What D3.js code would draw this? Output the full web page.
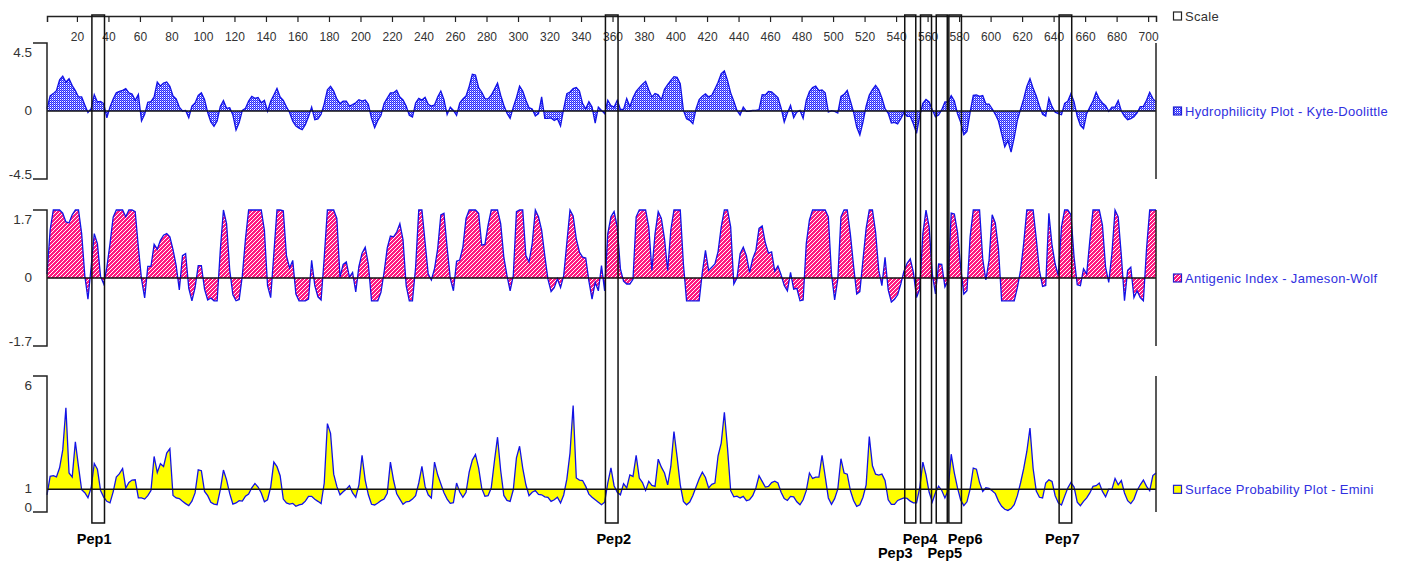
<!DOCTYPE html>
<html>
<head>
<meta charset="utf-8">
<title>Antigenicity plots</title>
<style>
  body {margin: 0; background: #fff; font-family: "Liberation Sans", Arial, sans-serif;}
  .frame {stroke: #222; stroke-width: 1.5; fill: none;}
  .ylab {font-size: 13.5px; fill: #333;}
  .legend text {font-size: 13px; letter-spacing: 0.3px;}
  .pep {fill: none; stroke: #111; stroke-width: 1.5;}
  .pep-label {font-size: 14.5px; font-weight: bold; fill: #000;}
  .trace {fill: none; stroke: #1212e6; stroke-width: 1.3; stroke-linejoin: miter;}
  .base {stroke: #111; stroke-width: 1.5;}
</style>
</head>
<body>
<svg width="1403" height="563"></svg>
<script src="https://d3js.org/d3.v7.min.js"></script>
<script>
// series are sampled at residues 1, 3, 5, ... 705
var residueStart = 1, residueStep = 2, seqLength = 705;

var scaleTicks = [20,40,60,80,100,120,140,160,180,200,220,240,260,280,300,320,340,
  360,380,400,420,440,460,480,500,520,540,560,580,600,620,640,660,680,700];

var hydrophilicity = [
  0.15,1.0,1.15,1.35,2.07,2.3,1.9,2.14,1.68,1.35,
  0.93,0.93,0.4,-0.1,0.15,1.08,0.6,0.64,0.49,-0.45,
  0.26,0.8,1.2,1.3,1.37,1.48,1.2,1.13,0.71,1.1,
  -0.66,-0.22,0.58,0.62,0.93,1.92,1.65,1.85,1.92,1.63,
  1.0,0.8,0.26,0,0.04,-0.45,0.33,0.53,1.04,1.2,
  0.77,-0.1,-0.73,-1.02,-0.66,0.3,0.69,0.18,0.22,-0.27,
  -1.26,-0.77,0.04,0.18,0.66,0.97,0.84,0.9,0.55,0.71,
  -0.02,0.64,1.06,1.5,0.93,0.71,0.28,-0.1,-0.68,-1.0,
  -1.13,-1.24,-0.9,-0.38,0.26,-0.58,-0.53,-0.22,0.49,1.41,
  1.63,1.32,0.8,0.49,0.66,0.66,0.33,0.42,0.55,0.75,
  0.66,0.73,0.44,-0.49,-1.1,-0.62,-0.3,0.5,0.85,1.2,
  1.2,1.37,0.93,0.73,0.33,-0.29,-0.4,0.53,0.84,0.73,
  0.9,0.44,0.33,0.4,0.93,1.32,0.75,-0.24,0.26,0.04,
  -0.29,0.53,0.8,1.0,1.63,2.43,2.38,1.55,1.24,0.82,
  0.8,1.04,1.43,1.85,1.04,0.38,-0.15,-0.49,0.26,0.88,
  1.65,1.32,0.71,0.22,0.13,-0.33,-0.18,0.93,-0.49,-0.49,
  -0.46,-0.62,-0.51,-1.0,0.15,1.15,1.26,1.48,1.55,1.32,
  0.49,0.15,0.62,0.26,-0.8,0.26,0.04,-0.18,0.71,0.35,
  0.26,0.71,0.11,0.11,0.82,0.29,0.88,1.3,1.55,1.77,
  1.96,1.41,0.93,1.15,1.08,0.75,1.43,1.74,2.03,2.27,
  2.23,1.81,0.04,-0.51,-0.62,-0.84,0.13,0.75,0.97,1.13,
  0.93,1.04,1.46,1.9,2.47,2.65,2.03,1.2,0.64,0.04,
  -0.27,0.26,-0.02,0,0.04,0.04,0.09,1.08,1.06,1.3,
  1.26,1.08,0.88,0.2,-0.73,-0.13,0.38,-0.45,-0.07,0.04,
  -0.49,0.71,1.28,1.55,1.65,1.35,1.39,1.2,-0.07,0.02,
  -0.02,-0.13,0.97,1.1,1.37,0.66,-0.07,-1.06,-1.59,-0.73,
  0.33,1.06,1.41,1.7,1.41,0.86,0.15,-0.15,-0.8,-0.75,
  -0.86,-0.51,-0.09,-0.35,-0.35,-0.86,-1.48,-0.33,0.51,0.77,
  0.6,0.09,-0.38,-0.27,0.09,0.6,0.6,1.02,0.66,-0.18,
  -0.75,-1.57,-1.35,-0.09,1.04,1.06,0.97,1.02,0.46,0.46,
  0.15,-0.22,-0.66,-1.5,-2.38,-1.96,-2.72,-1.77,-0.62,0.11,
  0.8,1.63,2.14,1.5,1.0,0.33,-0.22,-0.35,0.84,0.29,
  -0.09,-0.18,-0.24,0.51,0.64,1.15,0.6,-0.35,-0.95,-1.17,
  -0.18,0.26,0.66,1.24,0.8,0.53,0.35,-0.02,0.26,0.26,
  0.69,0,-0.35,-0.58,-0.51,-0.38,-0.13,0.29,0.31,0.71,
  1.24,0.82,0.6
];

var antigenic = [
  0.1,1.2,1.7,1.7,1.7,1.62,1.4,1.38,1.58,1.7,
  1.7,1.11,0.06,-0.53,0.27,1.11,0.86,0.04,-0.15,0.27,
  0.86,1.52,1.7,1.7,1.7,1.53,1.7,1.7,1.66,0.77,
  -0.03,-0.5,0.29,0.29,0.84,0.72,0.94,1.07,1.11,1.03,
  0.71,0.31,-0.3,0.56,0.61,-0.26,-0.57,-0.24,0.31,0.31,
  -0.28,-0.55,-0.5,-0.57,-0.57,0.69,1.7,1.36,0.2,-0.42,
  -0.57,-0.54,0.06,0.98,1.7,1.7,1.7,1.7,1.7,1.2,
  -0.19,-0.49,0.61,1.7,1.7,1.68,0.56,0.25,0.44,-0.4,
  -0.57,-0.57,-0.57,-0.53,0.44,-0.19,-0.47,-0.55,0.52,1.7,
  1.7,1.7,1.49,0.02,0.34,0.4,0.02,0.14,-0.35,0.29,
  0.62,0.77,0.35,-0.57,-0.57,-0.57,-0.36,0.15,0.75,1.05,
  1.03,1.15,1.36,0.96,-0.19,-0.57,-0.57,0.27,1.7,1.7,
  0.9,0.1,-0.05,0.23,0.73,1.58,1.62,0.77,-0.01,-0.32,
  0.42,0.45,0.77,1.49,1.7,1.7,1.7,1.62,0.82,0.84,
  1.32,1.7,1.7,1.7,1.36,0.52,0.06,-0.32,0.06,1.66,
  1.7,1.7,0.56,0.4,0.86,1.7,1.53,1.2,0.56,-0.03,
  -0.34,-0.24,-0.02,-0.24,0.06,0.88,1.7,1.55,0.98,0.65,
  0.52,0.5,-0.08,-0.53,-0.11,-0.32,0.31,-0.32,1.11,1.53,
  1.66,1.28,0.23,-0.08,-0.15,-0.15,-0.03,1.53,1.7,1.7,
  1.7,1.28,0.19,1.11,1.66,1.49,0.98,0.19,1.2,1.7,
  1.7,1.7,0.35,-0.57,-0.57,-0.57,-0.57,-0.57,0.14,0.69,
  0.19,0.27,0.35,0.66,1.28,1.7,1.7,1.28,-0.15,0,
  0.61,0.77,0.56,0.14,0.48,0.69,1.24,1.3,0.88,0.62,
  0.65,0.17,0.3,0.08,-0.19,-0.32,0.14,-0.28,-0.26,-0.57,
  -0.55,0.86,1.45,1.7,1.7,1.7,1.7,1.7,1.53,0.1,
  -0.55,-0.03,1.53,1.7,1.7,1.09,0.31,-0.4,-0.34,0.46,
  1.24,1.7,1.7,1.15,0.19,-0.19,0.52,-0.3,-0.6,-0.53,
  -0.42,-0.15,0.17,0.37,0.48,0.14,-0.49,-0.28,1.11,1.7,
  1.28,0.1,-0.4,0.35,0.34,-0.22,-0.07,1.62,1.6,1.15,
  0.27,-0.4,-0.32,1.03,1.7,1.7,1.7,0.48,-0.05,0.44,
  1.58,1.38,0.73,-0.57,-0.57,-0.57,-0.57,-0.57,-0.24,0.19,
  0.86,1.7,1.7,1.7,0.98,0.19,-0.21,-0.19,1.62,0.82,
  0.35,0.06,1.28,1.7,1.7,1.58,0.52,-0.17,-0.19,0.23,
  0.1,0.94,1.7,1.7,1.7,1.32,0.27,-0.11,0.61,1.7,
  1.53,0.56,-0.57,0.19,0.27,-0.49,-0.32,-0.49,-0.57,0.73,
  1.7,1.7,1.7
];

var surface = [
  0.76,1.57,1.6,1.55,1.95,2.74,4.6,1.72,1.54,3.1,
  2.0,0.98,0.85,0.63,1.06,2.14,1.89,0.95,0.66,0.47,
  0.4,0.89,1.54,1.69,1.92,1.06,1.3,1.41,1.42,0.62,
  0.62,0.57,0.72,0.95,2.45,1.74,2.13,2.01,2.6,2.8,
  0.73,0.62,0.59,0.47,0.37,0.28,0.48,0.84,1.86,1.82,
  0.91,0.72,0.43,0.35,0.32,0.98,1.85,1.42,0.81,0.35,
  0.4,0.5,0.48,0.7,0.79,1.07,1.26,1.1,0.84,0.45,
  0.54,1.1,2.2,2.0,1.6,0.57,0.4,0.35,0.38,0.25,
  0.31,0.35,0.48,0.69,0.69,0.56,0.47,0.37,1.28,3.9,
  3.47,1.67,1.13,0.76,0.89,1.01,1.16,0.84,0.65,1.2,
  2.5,1.41,0.76,0.34,0.31,0.4,0.5,0.57,0.83,2.2,
  1.4,0.8,0.57,0.34,0.45,0.47,0.57,0.72,1.28,2.01,
  1.13,0.76,0.62,2.2,1.64,1.25,0.85,0.57,0.38,0.41,
  1.28,0.88,0.65,0.87,1.76,2.29,2.54,1.95,1.04,0.69,
  0.72,1.06,2.23,3.3,1.83,0.73,0.51,0.47,0.98,2.39,
  2.9,1.94,1.2,0.72,0.87,0.95,0.78,0.76,0.67,0.65,
  0.47,0.54,0.65,0.4,0.75,1.45,2.6,4.7,1.5,1.41,
  1.39,1.13,0.79,0.65,0.54,0.43,0.32,0.43,1.28,1.95,
  1.16,0.87,0.76,1.25,1.06,1.64,1.57,2.5,1.5,1.3,
  0.95,1.35,1.17,1.13,2.33,1.98,1.72,1.2,2.01,3.55,
  2.42,1.2,0.47,0.32,0.44,0.73,1.1,1.47,1.76,1.52,
  1.06,1.22,1.28,2.48,3.04,4.4,2.82,0.94,0.67,0.7,
  0.62,0.69,0.5,0.54,0.72,1.06,1.6,1.35,1.1,1.13,
  1.3,1.36,1.28,0.87,0.59,0.51,0.69,0.67,0.45,0.32,
  0.54,0.94,1.72,1.48,1.54,1.54,2.5,1.57,0.62,0.34,
  0.59,1.01,2.35,1.72,1.67,0.94,0.51,0.25,0.32,0.65,
  1.2,3.33,2.04,1.67,1.63,1.67,1.39,0.54,0.34,0.34,
  0.51,0.57,0.62,0.6,0.48,0.4,0.4,1.06,2.2,1.64,
  0.87,0.44,0.85,1.14,0.95,0.62,0.94,2.55,1.72,1.06,
  0.53,0.28,0.45,1.01,1.94,1.89,1.3,0.91,1.07,1.04,
  0.94,0.81,0.48,0.25,0.12,0.07,0.15,0.32,0.72,1.28,
  1.91,2.67,3.7,1.92,0.92,0.65,0.62,1.28,1.42,1.35,
  0.72,0.4,0.31,0.69,1.06,1.3,1.1,0.43,0.28,0.47,
  0.62,0.84,1.13,1.16,1.28,0.91,0.67,1.01,1.0,1.48,
  1.2,1.39,0.84,0.5,0.37,0.56,0.95,1.2,1.41,1.13,
  0.94,1.61,1.72
];

var pepNames = ["Pep1","Pep2","Pep3","Pep4","Pep5","Pep6","Pep7"];
var pepStart = [30, 356, 546, 556, 566, 574, 644];
var pepEnd   = [37, 363, 552, 562, 572, 581, 651];

var panels = [
  {label: "Hydrophilicity Plot - Kyte-Doolittle", values: hydrophilicity, domain: [-4.5, 4.5], base: 0,
   ticks: [4.5, 0, -4.5], tickText: ["4.5", "0", "-4.5"], fill: "url(#dots)"},
  {label: "Antigenic Index - Jameson-Wolf", values: antigenic, domain: [-1.7, 1.7], base: 0,
   ticks: [1.7, 0, -1.7], tickText: ["1.7", "0", "-1.7"], fill: "url(#hatch)"},
  {label: "Surface Probability Plot - Emini", values: surface, domain: [0, 6], base: 1,
   ticks: [6, 1, 0], tickText: ["6", "1", "0"], fill: "#ffff00"}
];

// layout
var svg = d3.select("svg");
var axisY = 16;
var panelBox = [{top: 43, bottom: 179}, {top: 210, bottom: 346}, {top: 376, bottom: 512}];
var x = d3.scaleLinear().domain([1, seqLength]).range([47, 1156]);

// fill patterns
var defs = svg.append("defs");
var dots = defs.append("pattern").attr("id", "dots")
    .attr("patternUnits", "userSpaceOnUse").attr("width", 2).attr("height", 2);
dots.append("rect").attr("width", 2).attr("height", 2).attr("fill", "#fff");
dots.append("rect").attr("width", 1).attr("height", 1).attr("fill", "#2a2aff");
dots.append("rect").attr("x", 1).attr("y", 1).attr("width", 1).attr("height", 1).attr("fill", "#2a2aff");
dots.append("rect").attr("x", 1).attr("y", 0).attr("width", 1).attr("height", 1).attr("fill", "#7a7aff");

var hatch = defs.append("pattern").attr("id", "hatch")
    .attr("patternUnits", "userSpaceOnUse").attr("width", 4).attr("height", 4);
hatch.append("rect").attr("width", 4).attr("height", 4).attr("fill", "#ff1a80");
hatch.append("path").attr("d", "M-1,1L1,-1M0,4L4,0M3,5L5,3")
    .attr("stroke", "#fff").attr("stroke-width", 1);

// top scale
var xAxis = d3.axisBottom(x).tickValues(scaleTicks).tickSize(6).tickPadding(10);
var gAxis = svg.append("g")
    .attr("transform", "translate(0," + axisY + ")")
    .call(xAxis)
    .attr("font-family", "'Liberation Sans', Arial, sans-serif")
    .attr("font-size", 12)
    .style("color", "#222");
gAxis.select(".domain").attr("stroke-width", 1.5);
gAxis.selectAll(".tick line").attr("stroke-width", 1.2);
gAxis.selectAll(".tick text").attr("fill", "#333");

// panels
panels.forEach(function(p, pi) {
  var box = panelBox[pi];
  var y = d3.scaleLinear().domain(p.domain).range([box.bottom, box.top]);
  var pts = p.values.map(function(v, i) { return {r: residueStart + i * residueStep, v: v}; });

  var g = svg.append("g").attr("class", "panel");

  var area = d3.area()
      .x(function(d) { return x(d.r); })
      .y0(y(p.base))
      .y1(function(d) { return y(d.v); });
  var line = d3.line()
      .x(function(d) { return x(d.r); })
      .y(function(d) { return y(d.v); });

  g.append("path").attr("d", area(pts)).attr("fill", p.fill).attr("stroke", "none");
  g.append("path").attr("class", "trace").attr("d", line(pts));

  // baseline
  g.append("line").attr("class", "base")
      .attr("x1", x(1)).attr("x2", x(seqLength))
      .attr("y1", y(p.base)).attr("y2", y(p.base));

  // left bracket and right edge
  var yTop = y(p.domain[1]), yBot = y(p.domain[0]), x0 = x(1);
  g.append("path").attr("class", "frame")
      .attr("d", "M" + (x0 - 14) + "," + yTop + "H" + x0 + "V" + yBot + "H" + (x0 - 14));
  g.append("line").attr("class", "frame")
      .attr("x1", x(seqLength)).attr("x2", x(seqLength)).attr("y1", yTop).attr("y2", yBot);

  // value labels (the end labels sit just inside the bracket)
  g.selectAll(".ylab").data(p.ticks).enter().append("text")
      .attr("class", "ylab")
      .attr("x", x0 - 15)
      .attr("y", function(d) {
        var nudge = d === p.domain[1] ? 9 : (d === p.domain[0] ? -5 : -1);
        return y(d) + nudge;
      })
      .attr("dy", "0.35em")
      .attr("text-anchor", "end")
      .text(function(d, i) { return p.tickText[i]; });

  p.yBase = y(p.base);
});

// legend
var legendItems = [{label: "Scale", y: axisY, fill: "#fff", stroke: "#222", color: "#333"}]
  .concat(panels.map(function(p) {
    return {label: p.label, y: p.yBase, fill: p.fill, stroke: "#2020d0", color: "#3030e0"};
  }));
var legend = svg.append("g").attr("class", "legend");
var li = legend.selectAll("g").data(legendItems).enter().append("g")
    .attr("transform", function(d) { return "translate(1173," + d.y + ")"; });
li.append("rect").attr("x", 0.5).attr("y", -4).attr("width", 8).attr("height", 8)
    .attr("fill", function(d) { return d.fill; })
    .attr("stroke", function(d) { return d.stroke; }).attr("stroke-width", 1.2);
li.append("text").attr("x", 12).attr("dy", "0.35em")
    .attr("fill", function(d) { return d.color; })
    .text(function(d) { return d.label; });

// peptide boxes
var boxTop = 15, boxBottom = 523;
var labelRowY = [543.5, 557.5];
var labelRow = [0, 0, 1, 0, 1, 0, 0];
var labelShift = [-4, 2, -15, -6, 3, 10, -3];

var peps = pepNames.map(function(n, i) { return {name: n, start: pepStart[i], end: pepEnd[i], i: i}; });
var pg = svg.append("g");
pg.selectAll("rect").data(peps).enter().append("rect")
    .attr("class", "pep")
    .attr("x", function(d) { return x(d.start - 0.5); })
    .attr("width", function(d) { return x(d.end + 0.5) - x(d.start - 0.5); })
    .attr("y", boxTop)
    .attr("height", boxBottom - boxTop);
pg.selectAll("text").data(peps).enter().append("text")
    .attr("class", "pep-label")
    .attr("text-anchor", "middle")
    .attr("x", function(d) { return (x(d.start - 0.5) + x(d.end + 0.5)) / 2 + labelShift[d.i]; })
    .attr("y", function(d) { return labelRowY[labelRow[d.i]]; })
    .text(function(d) { return d.name; });
</script>
</body>
</html>
